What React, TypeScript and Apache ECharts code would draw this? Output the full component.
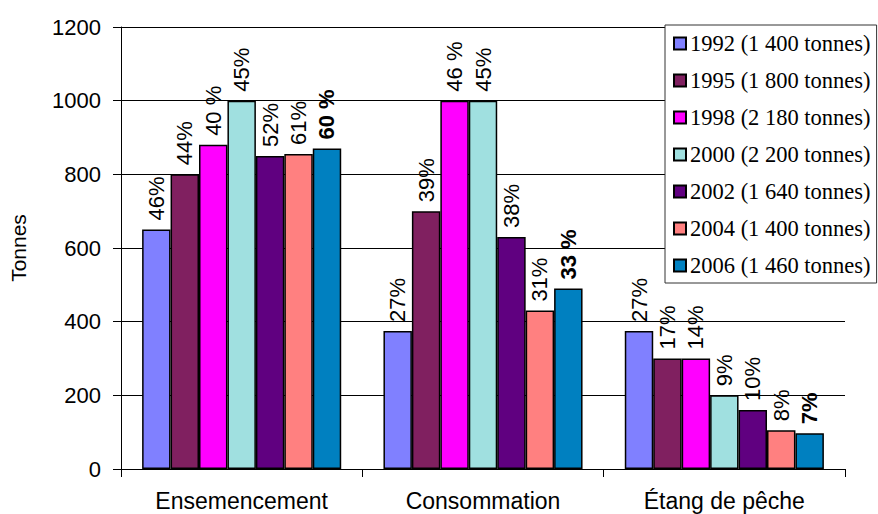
import React, { useEffect, useRef } from "react";
import * as echarts from "echarts";

const categories = ["Ensemencement", "Consommation", "Étang de pêche"];
const seriesNames = [
  "1992 (1 400 tonnes)",
  "1995 (1 800 tonnes)",
  "1998 (2 180 tonnes)",
  "2000 (2 200 tonnes)",
  "2002 (1 640 tonnes)",
  "2004 (1 400 tonnes)",
  "2006 (1 460 tonnes)",
];
const colors = ["#8080FF", "#802060", "#FF00FF", "#A0E0E0", "#600080", "#FF8080", "#0080C0"];

const v1992 = [650, 375, 375];
const v1995 = [800, 700, 300];
const v1998 = [880, 1000, 300];
const v2000 = [1000, 1000, 200];
const v2002 = [850, 630, 160];
const v2004 = [855, 430, 105];
const v2006 = [870, 490, 97];
const values = [v1992, v1995, v1998, v2000, v2002, v2004, v2006];

const l1992 = ["46%", "27%", "27%"];
const l1995 = ["44%", "39%", "17%"];
const l1998 = ["40 %", "46 %", "14%"];
const l2000 = ["45%", "45%", "9%"];
const l2002 = ["52%", "38%", "10%"];
const l2004 = ["61%", "31%", "8%"];
const l2006 = ["60 %", "33 %", "7%"];
const pctLabels = [l1992, l1995, l1998, l2000, l2002, l2004, l2006];

const yTicks = { min: 0, max: 1200, interval: 200 };

const SANS = "'Liberation Sans', Arial, sans-serif";
const SERIF = "'Liberation Serif', 'Times New Roman', serif";

export default function App() {
  const ref = useRef<HTMLDivElement>(null);
  useEffect(() => {
    document.body.style.margin = "0";
    if (!ref.current) return;
    const chart = echarts.init(ref.current, undefined, { renderer: "svg" });
    const series = values.map((vals, si) => ({
      type: "bar",
      name: seriesNames[si],
      barGap: "0%",
      barCategoryGap: "17.5%",
      itemStyle: { color: colors[si], borderColor: "#000", borderWidth: 1.5 },
      label: {
        show: true,
        position: "top",
        rotate: 90,
        align: "left",
        verticalAlign: "middle",
        distance: 9,
        fontSize: 22,
        fontFamily: SANS,
        fontWeight: si === 6 ? "bold" : "normal",
        color: "#000",
        formatter: (p: any) => pctLabels[si][p.dataIndex],
      },
      data: vals,
    }));
    chart.setOption({
      animation: false,
      backgroundColor: "#fff",
      color: colors,
      grid: { left: 121, right: 33, top: 27, bottom: 45, containLabel: false, outerBoundsMode: "none" },
      legend: {
        orient: "vertical",
        left: 665,
        top: 25,
        padding: [7, 6, 6, 8],
        itemGap: 14,
        itemWidth: 12,
        itemHeight: 12,
        icon: "rect",
        backgroundColor: "#fff",
        borderColor: "#333",
        borderWidth: 1,
        textStyle: { fontFamily: SERIF, fontSize: 22.5, color: "#000", lineHeight: 22, padding: [0, 0, 0, -1] },
        data: seriesNames,
      },
      xAxis: {
        type: "category",
        data: categories,
        axisLine: { show: true, lineStyle: { color: "#000", width: 1 } },
        axisTick: { show: true, length: 8, alignWithLabel: false, lineStyle: { color: "#000" } },
        axisLabel: { fontFamily: SANS, fontSize: 23, color: "#000", margin: 20 },
      },
      yAxis: {
        type: "value",
        min: yTicks.min,
        max: yTicks.max,
        interval: yTicks.interval,
        name: "Tonnes",
        nameLocation: "middle",
        nameRotate: 90,
        nameGap: 92,
        nameTextStyle: { fontFamily: SANS, fontSize: 21, color: "#000" },
        axisLine: { show: true, lineStyle: { color: "#000", width: 1 } },
        axisTick: { show: true, length: 8, lineStyle: { color: "#000" } },
        axisLabel: { fontFamily: SANS, fontSize: 22, color: "#000", margin: 20, formatter: (v: number) => String(v) },
        splitLine: { show: true, lineStyle: { color: "#000", width: 1 } },
      },
      series,
    });
    return () => chart.dispose();
  }, []);
  return <div ref={ref} style={{ width: 878, height: 514 }} />;
}
